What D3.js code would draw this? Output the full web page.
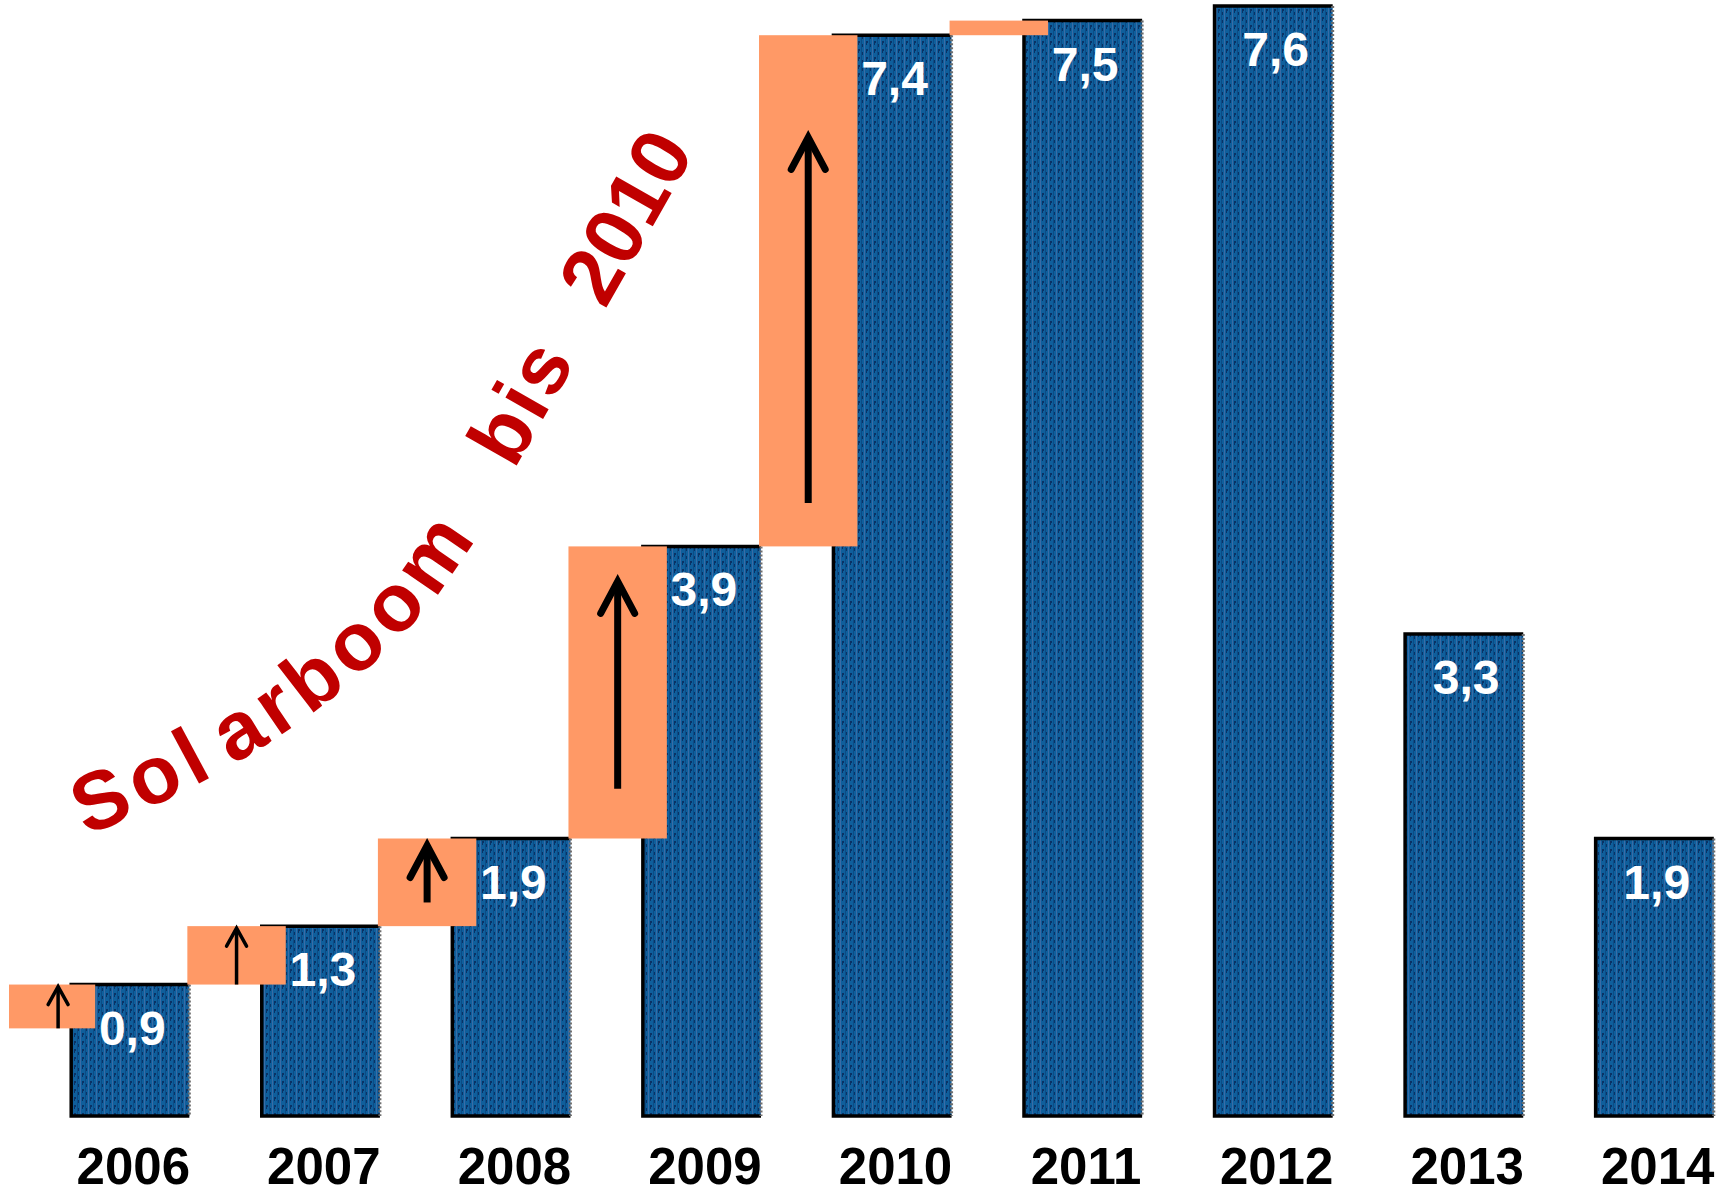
<!DOCTYPE html>
<html lang="de">
<head>
<meta charset="utf-8">
<title>Solarboom bis 2010</title>
<script src="https://cdn.jsdelivr.net/npm/d3@7"></script>
<style>
  html, body { margin: 0; padding: 0; background: #ffffff; }
  svg { display: block; }
</style>
</head>
<body>
<svg id="chart" width="1729" height="1196"></svg>
<script>
// Jährlich neu installierte PV-Leistung in Deutschland (GW)
const years = ["2006", "2007", "2008", "2009", "2010", "2011", "2012", "2013", "2014"];
const installedGW = [0.9, 1.3, 1.9, 3.9, 7.4, 7.5, 7.6, 3.3, 1.9];
// Zubau-Stufen während des Booms: von Vorjahreswert auf aktuellen Wert
const boomYears = ["2006", "2007", "2008", "2009", "2010", "2011"];
const level2005GW = 0.6;
const headline = "Solarboom bis 2010";

const W = 1729, H = 1196;
const svg = d3.select("#chart");

const fmt = d3.formatLocale({ decimal: ",", thousands: ".", grouping: [3], currency: ["", "€"] }).format(".1f");

const x = d3.scaleBand()
  .domain(years)
  .range([35, 1750])
  .paddingInner(0.38)
  .paddingOuter(0.19);

const y = d3.scaleLinear()
  .domain([0, 7.6])
  .range([1116, 6]);

const data = years.map((yr, i) => ({ year: yr, value: installedGW[i] }));
const valueOf = new Map(data.map(d => [d.year, d.value]));

// Kachelmuster der Balken (blaue Fläche mit dunklen Strichen)
const defs = svg.append("defs");
const pat = defs.append("pattern")
  .attr("id", "panel")
  .attr("width", 8).attr("height", 8)
  .attr("patternUnits", "userSpaceOnUse");
pat.append("rect").attr("width", 8).attr("height", 8).attr("fill", "#0f5f9c");
pat.append("rect").attr("x", 0).attr("y", 0).attr("width", 1).attr("height", 8).attr("fill", "#3a6ca6");
pat.append("rect").attr("x", 2).attr("y", 1).attr("width", 2).attr("height", 2).attr("fill", "#0a3265");
pat.append("rect").attr("x", 2).attr("y", 3).attr("width", 1).attr("height", 2).attr("fill", "#0a3265");
pat.append("rect").attr("x", 5).attr("y", 0).attr("width", 1).attr("height", 8).attr("fill", "#0b4c86");
pat.append("rect").attr("x", 6).attr("y", 4).attr("width", 1).attr("height", 3).attr("fill", "#0a3265");

// Balken
const bars = svg.append("g").attr("class", "bars");
const barG = bars.selectAll("g.bar").data(data).join("g").attr("class", "bar");

barG.append("rect")
  .attr("x", d => x(d.year))
  .attr("y", d => y(d.value))
  .attr("width", x.bandwidth())
  .attr("height", d => y(0) - y(d.value))
  .attr("fill", "url(#panel)");

// Rand: links, oben, unten schwarz; rechts grau gestrichelt
barG.append("path")
  .attr("d", d => {
    const x0 = x(d.year), x1 = x0 + x.bandwidth(), y0 = y(d.value), y1 = y(0);
    return `M${x1},${y0}H${x0}V${y1}H${x1}`;
  })
  .attr("fill", "none")
  .attr("stroke", "#000")
  .attr("stroke-width", 3.5);

barG.append("line")
  .attr("x1", d => x(d.year) + x.bandwidth())
  .attr("x2", d => x(d.year) + x.bandwidth())
  .attr("y1", d => y(d.value))
  .attr("y2", y(0))
  .attr("stroke", "#6e6e6e")
  .attr("stroke-width", 3)
  .attr("stroke-dasharray", "2 2");

// Wertebeschriftung in den Balken
barG.append("text")
  .attr("x", d => x(d.year) + x.bandwidth() / 2 + 2)
  .attr("y", d => y(d.value) + 60)
  .attr("text-anchor", "middle")
  .attr("font-family", "'Liberation Sans', Arial, sans-serif")
  .attr("font-weight", "bold")
  .attr("font-size", 48)
  .attr("fill", "#ffffff")
  .text(d => fmt(d.value));

// Jahresachse
const xAxis = d3.axisBottom(x).tickSize(0).tickPadding(0);
const axisG = svg.append("g")
  .attr("transform", `translate(0,${1184})`)
  .call(xAxis);
axisG.select(".domain").remove();
axisG.selectAll("text")
  .attr("dy", 0)
  .attr("y", 0)
  .attr("dx", 3)
  .attr("font-family", "'Liberation Sans', Arial, sans-serif")
  .attr("font-weight", "bold")
  .attr("font-size", 51)
  .attr("fill", "#000");

// Zubau-Stufen (orange) mit Pfeilen
const steps = boomYears.map((yr, i) => {
  const prev = i === 0 ? level2005GW : valueOf.get(boomYears[i - 1]);
  return { year: yr, from: prev, to: valueOf.get(yr) };
});

const stepG = svg.append("g").attr("class", "steps");
const stepBoxes = steps.map(s => {
  const left = Math.max(9, x(s.year) - x.step() + x.bandwidth() - 2);
  const right = x(s.year) + 24;
  return { ...s, x0: left, x1: right, top: y(s.to), bottom: y(s.from) };
});

stepG.selectAll("rect").data(stepBoxes).join("rect")
  .attr("x", d => d.x0)
  .attr("y", d => d.top)
  .attr("width", d => d.x1 - d.x0)
  .attr("height", d => d.bottom - d.top)
  .attr("fill", "#ff9966");

const arrowInset = { "2008": [0.08, 0.27], "2009": [0.12, 0.17], "2010": [0.2, 0.085] };
const arrows = stepBoxes
  .filter(d => d.year !== "2011")
  .map(d => {
    const h = d.bottom - d.top;
    const ins = arrowInset[d.year] || [0, 0];
    const big = h > 70;
    return {
      cx: (d.x0 + d.x1) / 2 + (d.year === "2006" ? 6 : 0),
      tip: d.top + ins[0] * h + (big ? 0 : 2),
      base: d.bottom - ins[1] * h,
      sw: big ? 7 : 3.5,
      hw: big ? 17 : 10,
      hl: big ? 32 : 18
    };
  });

const arrowG = stepG.selectAll("g.arrow").data(arrows).join("g").attr("class", "arrow");
arrowG.append("line")
  .attr("x1", d => d.cx).attr("x2", d => d.cx)
  .attr("y1", d => d.base).attr("y2", d => d.tip + d.sw / 2)
  .attr("stroke", "#000").attr("stroke-width", d => d.sw);
arrowG.append("path")
  .attr("d", d => `M${d.cx - d.hw},${d.tip + d.hl}L${d.cx},${d.tip}L${d.cx + d.hw},${d.tip + d.hl}`)
  .attr("fill", "none")
  .attr("stroke", "#000")
  .attr("stroke-width", d => d.sw)
  .attr("stroke-linecap", "round")
  .attr("stroke-linejoin", "miter");

// Geschwungener Schriftzug entlang des Booms
defs.append("path")
  .attr("id", "boomCurve")
  .attr("d", "M86,836 Q372,719 477,535 L770,20");

// Zeichenabstände entlang der Kurve (Sperrung und Wortlücken)
const charGap = [0, 7, 7, 21, 7, 7, 7, 7, 7, 53, 3, 3, 3, 37, 0, 0, 0, 0];

svg.append("text")
  .attr("font-family", "'Liberation Sans', Arial, sans-serif")
  .attr("font-weight", "bold")
  .attr("font-size", 82)
  .attr("fill", "#c00000")
  .append("textPath")
  .attr("href", "#boomCurve")
  .append("tspan")
  .attr("dx", charGap.join(" "))
  .style("white-space", "pre")
  .text(headline);
</script>
</body>
</html>
